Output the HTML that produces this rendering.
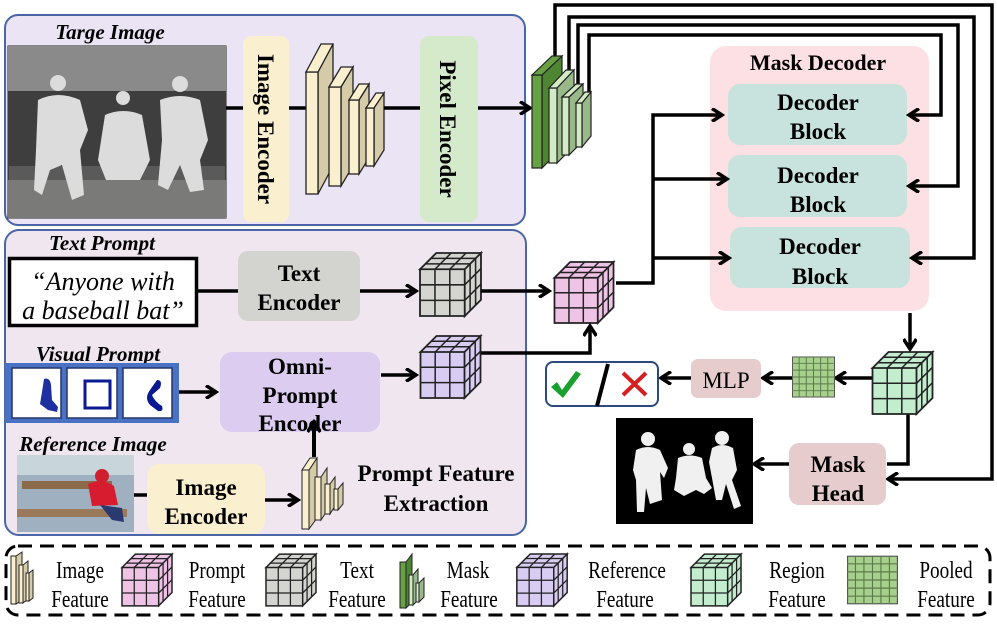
<!DOCTYPE html>
<html><head><meta charset="utf-8"><style>
html,body{margin:0;padding:0;background:#fff;}
svg{display:block;}
text{font-family:"Liberation Serif",serif;}
.b{font-weight:bold;}
.bi{font-weight:bold;font-style:italic;}
</style></head><body>
<svg width="997" height="624" viewBox="0 0 997 624" xmlns="http://www.w3.org/2000/svg">
<defs>
<marker id="ar" markerWidth="14" markerHeight="14" refX="11" refY="7" orient="auto" markerUnits="userSpaceOnUse">
<path d="M1,0.5 L11,7 L1,13.5" fill="none" stroke="#000" stroke-width="3.5"/>
</marker>
<symbol id="cube" viewBox="0 0 60 62" overflow="visible">
<path d="M0,16 L16,0 L60,0 L44,16 Z M44,16 L60,0 L60,46 L44,62 Z M0,16 H44 V62 H0 Z" stroke="#222" stroke-width="1.8"/>
<path d="M0,31.3 H44 M0,46.6 H44 M14.7,16 V62 M29.3,16 V62 M5.3,10.7 H49.3 M10.7,5.3 H54.7 M14.7,16 L30.7,0 M29.3,16 L45.3,0 M44,31.3 L60,15.3 M44,46.6 L60,30.6 M49.3,10.7 V56.7 M54.7,5.3 V51.3" stroke="#222" stroke-width="1.5" fill="none"/>
</symbol>
<symbol id="pool" viewBox="0 0 44 42">
<rect x="0.5" y="0.5" width="43" height="41" fill="#a7d08d" stroke="#555"/>
<path d="M7.3,0 V42 M14.6,0 V42 M22,0 V42 M29.3,0 V42 M36.6,0 V42 M0,7 H44 M0,14 H44 M0,21 H44 M0,28 H44 M0,35 H44" stroke="#5c7a4c" stroke-width="1"/>
</symbol>
</defs>

<rect x="5" y="15" width="520" height="210" rx="13" fill="#ebe4f4" stroke="#4a66a6" stroke-width="2"/>
<text x="110" y="39" text-anchor="middle" class="bi" font-size="21">Targe Image</text>
<rect x="8" y="46" width="218" height="172" fill="#5a5a5a" stroke="#222"/>
<rect x="8" y="46" width="218" height="45" fill="#8a8a8a"/>
<rect x="8" y="91" width="218" height="75" fill="#3e3e3e"/>
<rect x="8" y="180" width="218" height="38" fill="#7a7a78"/>
<g fill="#dcdcdc">
<circle cx="58" cy="83" r="8"/><path d="M38,100 Q58,90 80,100 L88,130 L80,150 L84,195 L72,200 L62,165 L50,170 L42,195 L34,190 L36,150 Z"/>
<circle cx="123" cy="98" r="7"/><path d="M105,115 Q123,107 142,115 L150,160 L140,180 L106,180 L98,160 Z"/>
<circle cx="180" cy="84" r="8"/><path d="M160,100 Q180,92 200,100 L208,140 L200,160 L204,190 L190,192 L180,165 L168,190 L158,185 L162,140 Z"/>
</g>
<rect x="243" y="36" width="46" height="186" rx="8" fill="#faefcf"/>
<text transform="translate(258,129) rotate(90)" text-anchor="middle" class="b" font-size="23">Image Encoder</text>
<line x1="226" y1="108" x2="243" y2="108" stroke="#000" stroke-width="3.5"/>
<line x1="289" y1="108" x2="306" y2="108" stroke="#000" stroke-width="3.5"/>
<g stroke="#222" stroke-width="1.3">
<path d="M318,72 L333,44 L333,166 L318,194 Z" fill="#d6cba8"/><rect x="306" y="72" width="12" height="122" fill="#faf0d0"/><path d="M306,72 L321,44 L333,44 L318,72 Z" fill="#faf0d0"/>
<path d="M341,87 L353,67 L353,166 L341,186 Z" fill="#d6cba8"/><rect x="329" y="87" width="12" height="99" fill="#faf0d0"/><path d="M329,87 L341,67 L353,67 L341,87 Z" fill="#faf0d0"/>
<path d="M359,100 L369,84 L369,158 L359,174 Z" fill="#d6cba8"/><rect x="349" y="100" width="10" height="74" fill="#faf0d0"/><path d="M349,100 L359,84 L369,84 L359,100 Z" fill="#faf0d0"/>
<path d="M374,108 L384,93 L384,150 L374,166 Z" fill="#d6cba8"/><rect x="366" y="108" width="8" height="58" fill="#faf0d0"/><path d="M366,108 L376,93 L384,93 L374,108 Z" fill="#faf0d0"/>
</g>
<line x1="384" y1="108" x2="420" y2="108" stroke="#000" stroke-width="3.5"/>
<rect x="420" y="36" width="58" height="186" rx="9" fill="#d4eacb"/>
<text transform="translate(440,129) rotate(90)" text-anchor="middle" class="b" font-size="23">Pixel Encoder</text>
<line x1="478" y1="108" x2="530" y2="108" stroke="#000" stroke-width="3.5" marker-end="url(#ar)"/>

<rect x="710" y="46" width="219" height="265" rx="16" fill="#fce0e3"/>
<text x="818" y="70" text-anchor="middle" class="b" font-size="22">Mask Decoder</text>
<rect x="728" y="84" width="179" height="61" rx="12" fill="#c8e3dd"/>
<rect x="728" y="155" width="179" height="62" rx="12" fill="#c8e3dd"/>
<rect x="730" y="227" width="180" height="61" rx="12" fill="#c8e3dd"/>
<g class="b" font-size="23" text-anchor="middle">
<text x="818" y="110">Decoder</text><text x="818" y="139">Block</text>
<text x="818" y="183">Decoder</text><text x="818" y="212">Block</text>
<text x="820" y="254">Decoder</text><text x="820" y="284">Block</text>
</g>

<g fill="none" stroke="#000" stroke-width="3.5">
<path d="M555,62 V5 H992 V479 H888" marker-end="url(#ar)"/>
<path d="M569,72 V17 H974 V258 H912" marker-end="url(#ar)"/>
<path d="M578,86 V25 H958 V186 H909" marker-end="url(#ar)"/>
<path d="M589,96 V35 H941 V115 H909" marker-end="url(#ar)"/>
</g>
<g stroke="#222" stroke-width="1.2">
<path d="M542,75 L562,56 L562,148 L542,168 Z" fill="#4e8532"/><rect x="532" y="75" width="10" height="93" fill="#68a045"/><path d="M532,75 L552,56 L562,56 L542,75 Z" fill="#68a045"/>
<path d="M557,88 L574,70 L574,146 L557,163 Z" fill="#9ab98a"/><rect x="549" y="88" width="8" height="75" fill="#d3ebc5"/><path d="M549,88 L566,70 L574,70 L557,88 Z" fill="#d3ebc5"/>
<path d="M569,97 L583,84 L583,141 L569,155 Z" fill="#9ab98a"/><rect x="562" y="97" width="7" height="58" fill="#d3ebc5"/><path d="M562,97 L576,84 L583,84 L569,97 Z" fill="#d3ebc5"/>
<path d="M582,103 L591,92 L591,136 L582,147 Z" fill="#9ab98a"/><rect x="576" y="103" width="6" height="44" fill="#d3ebc5"/><path d="M576,103 L585,92 L591,92 L582,103 Z" fill="#d3ebc5"/>
</g>

<g fill="none" stroke="#000" stroke-width="3.5">
<path d="M616,283 H653 V115 H722" marker-end="url(#ar)"/>
<path d="M653,179 H727" marker-end="url(#ar)"/>
<path d="M653,258 H729" marker-end="url(#ar)"/>
<path d="M910,313 V349" marker-end="url(#ar)"/>
<path d="M872,378 H836" marker-end="url(#ar)"/>
<path d="M792,378 H763" marker-end="url(#ar)"/>
<path d="M691,378 H661" marker-end="url(#ar)"/>
<path d="M908,413 V464 H887"/>
<path d="M789,464 H754" marker-end="url(#ar)"/>
</g>
<use href="#cube" x="872" y="352" width="61" height="62" fill="#c4eccf"/>
<use href="#pool" x="792" y="356" width="43" height="42"/>
<rect x="691" y="359" width="70" height="39" rx="7" fill="#e6cccd"/>
<text x="726" y="388" text-anchor="middle" font-size="23">MLP</text>
<rect x="546" y="362" width="112" height="44" rx="7" fill="#fff" stroke="#2b4a80" stroke-width="2"/>
<path d="M551,387 L557,382 L562,390 L576,371 L581,374 L563,398 Z" fill="#1aa030"/>
<path d="M608,364 L597,406" stroke="#000" stroke-width="4"/>
<path d="M623,373 L646,395 M646,373 L623,395" stroke="#d42020" stroke-width="4"/>
<rect x="616" y="418" width="137" height="106" fill="#000"/>
<g fill="#f0f0f0">
<circle cx="648" cy="439" r="7"/><path d="M636,450 Q648,444 660,450 L668,468 L664,478 L660,472 L662,500 L650,504 L646,488 L644,512 L637,512 L636,480 L633,470 Z"/>
<circle cx="689" cy="449" r="6"/><path d="M678,458 Q690,453 702,458 L706,478 L712,488 L704,494 L696,490 L684,496 L674,490 L676,478 Z"/>
<circle cx="722" cy="438" r="7"/><path d="M712,448 Q722,442 733,448 L737,470 L732,480 L741,506 L734,509 L726,484 L722,500 L716,500 L712,478 L709,462 Z"/>
</g>
<rect x="789" y="443" width="97" height="62" rx="10" fill="#e6cccd"/>
<text x="838" y="472" text-anchor="middle" class="b" font-size="23">Mask</text>
<text x="838" y="501" text-anchor="middle" class="b" font-size="23">Head</text>

<rect x="5" y="230" width="521" height="305" rx="14" fill="#efe6f0" stroke="#4a66a6" stroke-width="2"/>
<text x="102" y="250" text-anchor="middle" class="bi" font-size="21">Text Prompt</text>
<rect x="9.5" y="258.5" width="187" height="67" fill="#fff" stroke="#000" stroke-width="3.5"/>
<text x="103" y="290" text-anchor="middle" font-style="italic" font-size="26">“Anyone with</text>
<text x="103" y="319" text-anchor="middle" font-style="italic" font-size="26">a baseball bat”</text>
<line x1="198" y1="291" x2="238" y2="291" stroke="#000" stroke-width="3.5"/>
<rect x="238" y="251" width="122" height="70" rx="10" fill="#d3d3cf"/>
<text x="299" y="281" text-anchor="middle" class="b" font-size="23">Text</text>
<text x="299" y="310" text-anchor="middle" class="b" font-size="23">Encoder</text>
<path d="M360,291 H416" stroke="#000" stroke-width="3.5" marker-end="url(#ar)"/>
<use href="#cube" x="420" y="253" width="61" height="63" fill="#d4d4d0"/>
<path d="M481,291 H549" stroke="#000" stroke-width="3.5" marker-end="url(#ar)"/>
<use href="#cube" x="553" y="262" width="62" height="61" fill="#efc3e6"/>

<text x="98" y="361" text-anchor="middle" class="bi" font-size="21">Visual Prompt</text>
<rect x="5" y="363" width="174" height="60" fill="#4a72c4"/>
<rect x="12" y="368" width="49" height="50" fill="#fff" stroke="#26346a" stroke-width="1.5"/>
<rect x="67" y="368" width="50" height="50" fill="#fff" stroke="#26346a" stroke-width="1.5"/>
<rect x="123" y="368" width="49" height="50" fill="#fff" stroke="#26346a" stroke-width="1.5"/>
<path d="M44,379 Q50,377 51,385 L52,400 L58,407 L57,412 L48,410 L40,404 L42,392 Z" fill="#1e2fa0"/>
<rect x="85" y="381" width="25" height="27" fill="none" stroke="#0a1a90" stroke-width="3"/>
<path d="M157,380 Q163,380 160,388 L152,395 Q155,402 162,406 Q164,412 158,411 L150,405 Q144,398 150,390 Z" fill="#0a1a90"/>
<path d="M179,392 H216" stroke="#000" stroke-width="3.5" marker-end="url(#ar)"/>
<rect x="220" y="352" width="160" height="80" rx="12" fill="#dccdf0"/>
<text x="300" y="374" text-anchor="middle" class="b" font-size="23">Omni-</text>
<text x="300" y="403" text-anchor="middle" class="b" font-size="23">Prompt</text>
<text x="300" y="431" text-anchor="middle" class="b" font-size="23">Encoder</text>
<path d="M381,375 H416" stroke="#000" stroke-width="3.5" marker-end="url(#ar)"/>
<use href="#cube" x="420" y="336" width="61" height="62" fill="#d8ccf2"/>
<path d="M481,353 H590 V326" fill="none" stroke="#000" stroke-width="3.5" marker-end="url(#ar)"/>

<text x="93" y="451" text-anchor="middle" class="bi" font-size="21">Reference Image</text>
<rect x="17" y="455" width="117" height="77" fill="#9fb0c0"/>
<rect x="17" y="455" width="117" height="20" fill="#c8d6dc"/>
<rect x="22" y="481" width="90" height="8" fill="#8a6a4a"/>
<rect x="17" y="509" width="110" height="8" fill="#9a7a58"/>
<circle cx="102" cy="476" r="7" fill="#d02030"/>
<path d="M88,484 Q102,478 114,486 L118,505 L92,506 Z" fill="#d81c30"/>
<path d="M100,505 L122,508 L124,522 L112,520 Z" fill="#2a3a70"/>
<line x1="134" y1="495" x2="147" y2="495" stroke="#000" stroke-width="3.5"/>
<rect x="147" y="464" width="118" height="70" rx="12" fill="#faefcf"/>
<text x="206" y="495" text-anchor="middle" class="b" font-size="23">Image</text>
<text x="206" y="524" text-anchor="middle" class="b" font-size="23">Encoder</text>
<path d="M265,500 H298" stroke="#000" stroke-width="3.5" marker-end="url(#ar)"/>
<g stroke="#222" stroke-width="1">
<path d="M309,470 L317,458 L317,518 L309,529 Z" fill="#d6cba8"/><rect x="302" y="470" width="7" height="59" fill="#faf0d0"/><path d="M302,470 L310,458 L317,458 L309,470 Z" fill="#faf0d0"/>
<path d="M321,477 L327,468 L327,511 L321,520 Z" fill="#d6cba8"/><rect x="315" y="477" width="6" height="43" fill="#faf0d0"/>
<path d="M330,484 L335,477 L335,506 L330,514 Z" fill="#d6cba8"/><rect x="325" y="484" width="5" height="30" fill="#faf0d0"/>
<path d="M338,489 L343,483 L343,504 L338,510 Z" fill="#d6cba8"/><rect x="334" y="489" width="4" height="21" fill="#faf0d0"/>
</g>
<path d="M314,457 V422" stroke="#000" stroke-width="4" marker-end="url(#ar)"/>
<text x="436" y="481" text-anchor="middle" class="b" font-size="23">Prompt Feature</text>
<text x="436" y="511" text-anchor="middle" class="b" font-size="23">Extraction</text>

<rect x="6" y="546" width="984" height="69" rx="12" fill="none" stroke="#000" stroke-width="3" stroke-dasharray="14 8"/>
<g stroke="#222" stroke-width="1">
<path d="M16,556 L22,552 L22,600 L16,604 Z" fill="#d6cba8"/><rect x="11" y="556" width="5" height="48" fill="#faf0d0"/>
<path d="M23,565 L28,561 L28,599 L23,603 Z" fill="#d6cba8"/><rect x="19" y="565" width="4" height="38" fill="#faf0d0"/>
<path d="M29,573 L33,570 L33,598 L29,601 Z" fill="#d6cba8"/><rect x="26" y="573" width="3" height="28" fill="#faf0d0"/>
</g>
<use href="#cube" x="122" y="554" width="50" height="52" fill="#efc3e6"/>
<use href="#cube" x="266" y="554" width="50" height="52" fill="#d4d4d0"/>
<g stroke="#222" stroke-width="1">
<path d="M406,562 L412,554 L412,602 L406,608 Z" fill="#4e8532"/><rect x="400" y="562" width="6" height="46" fill="#68a045"/>
<path d="M413,575 L418,569 L418,600 L413,605 Z" fill="#9ab98a"/><rect x="409" y="575" width="4" height="30" fill="#d3ebc5"/>
<path d="M419,583 L424,578 L424,597 L419,602 Z" fill="#9ab98a"/><rect x="416" y="583" width="3" height="19" fill="#d3ebc5"/>
</g>
<use href="#cube" x="515" y="554" width="54" height="52" fill="#d8ccf2"/>
<use href="#cube" x="691" y="554" width="50" height="52" fill="#c4eccf"/>
<use href="#pool" x="847" y="554" width="51" height="52"/>
<g font-size="24" text-anchor="middle">
<text transform="translate(80,578) scale(0.8,1)">Image</text><text transform="translate(80,607) scale(0.8,1)">Feature</text>
<text transform="translate(217,578) scale(0.8,1)">Prompt</text><text transform="translate(217,607) scale(0.8,1)">Feature</text>
<text transform="translate(357,578) scale(0.8,1)">Text</text><text transform="translate(357,607) scale(0.8,1)">Feature</text>
<text transform="translate(468,578) scale(0.8,1)">Mask</text><text transform="translate(469,607) scale(0.8,1)">Feature</text>
<text transform="translate(627,578) scale(0.8,1)">Reference</text><text transform="translate(625,607) scale(0.8,1)">Feature</text>
<text transform="translate(797,578) scale(0.8,1)">Region</text><text transform="translate(797,607) scale(0.8,1)">Feature</text>
<text transform="translate(946,578) scale(0.8,1)">Pooled</text><text transform="translate(946,607) scale(0.8,1)">Feature</text>
</g>
</svg>
</body></html>
